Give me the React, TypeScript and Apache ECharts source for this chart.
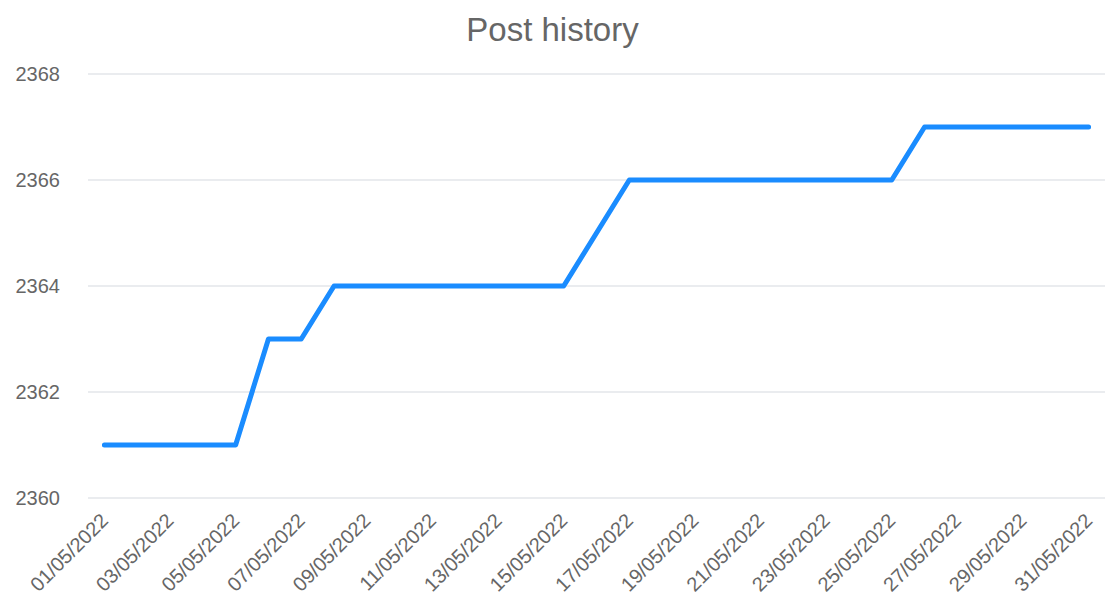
import React, { useEffect, useRef } from "react";
import * as echarts from "echarts";

const days: string[] = [
  "01/05/2022", "02/05/2022", "03/05/2022", "04/05/2022", "05/05/2022", "06/05/2022",
  "07/05/2022", "08/05/2022", "09/05/2022", "10/05/2022", "11/05/2022", "12/05/2022",
  "13/05/2022", "14/05/2022", "15/05/2022", "16/05/2022", "17/05/2022", "18/05/2022",
  "19/05/2022", "20/05/2022", "21/05/2022", "22/05/2022", "23/05/2022", "24/05/2022",
  "25/05/2022", "26/05/2022", "27/05/2022", "28/05/2022", "29/05/2022", "30/05/2022",
  "31/05/2022",
];

const posts: number[] = [
  2361, 2361, 2361, 2361, 2361, 2363, 2363, 2364, 2364, 2364, 2364, 2364, 2364, 2364, 2364,
  2365, 2366, 2366, 2366, 2366, 2366, 2366, 2366, 2366, 2366, 2367, 2367, 2367, 2367, 2367,
  2367,
];

const title = "Post history";

export default function App() {
  const ref = useRef<HTMLDivElement>(null);
  useEffect(() => {
    if (!ref.current) return;
    const chart = echarts.init(ref.current, undefined, { renderer: "svg" });
    const font = "Arial, 'Liberation Sans', sans-serif";
    chart.setOption({
      animation: false,
      backgroundColor: "#ffffff",
      title: {
        text: title,
        left: "center",
        top: 8,
        textStyle: { fontFamily: font, fontSize: 33, fontWeight: "normal", color: "#666666" },
      },
      grid: { left: 88, right: -4, top: 74, bottom: 104, containLabel: false },
      xAxis: {
        type: "category",
        data: days,
        boundaryGap: true,
        axisLine: { show: false },
        axisTick: { show: false },
        axisLabel: {
          interval: 1,
          rotate: 45,
          margin: 19,
          fontFamily: font,
          fontSize: 20,
          color: "#666666",
        },
      },
      yAxis: {
        type: "value",
        min: 2360,
        max: 2368,
        interval: 2,
        axisLine: { show: false },
        axisTick: { show: false },
        splitLine: { lineStyle: { color: "#e3e6ea", width: 1.5 } },
        axisLabel: {
          margin: 28,
          fontFamily: font,
          fontSize: 20,
          color: "#666666",
          formatter: (v: number) => String(v),
        },
      },
      series: [
        {
          type: "line",
          data: posts,
          showSymbol: false,
          symbol: "none",
          lineStyle: { color: "#1a8cff", width: 5, cap: "round", join: "round" },
        },
      ],
    });
    return () => chart.dispose();
  }, []);
  return (
    <div
      ref={ref}
      style={{ position: "absolute", left: 0, top: 0, width: 1105, height: 602 }}
    />
  );
}
